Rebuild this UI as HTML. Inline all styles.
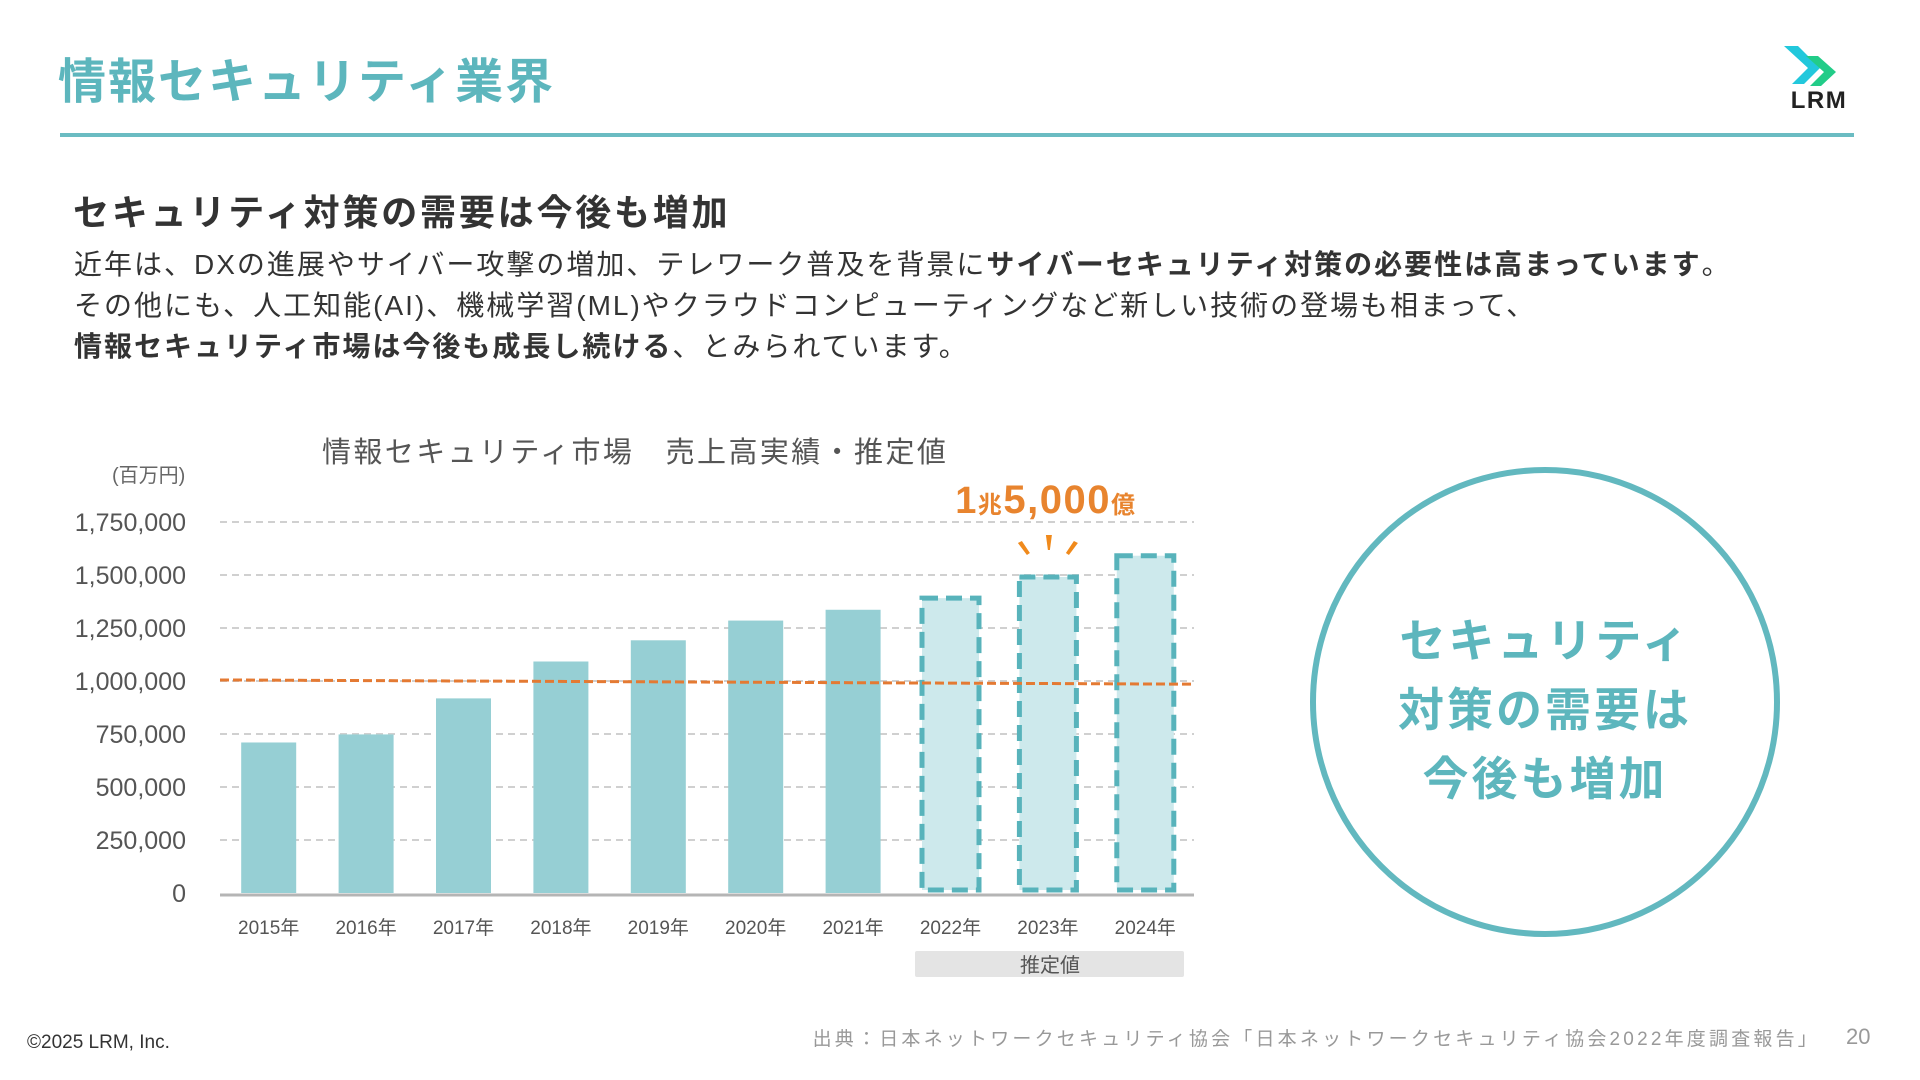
<!DOCTYPE html>
<html><head><meta charset="utf-8"><style>
body{margin:0;width:1920px;height:1080px;background:#fff;position:relative;overflow:hidden;font-family:"Liberation Sans","Noto Sans CJK JP",sans-serif;}
.abs{position:absolute;white-space:nowrap;}
</style></head><body>
<div class="abs" style="left:58px;top:42px;font-size:48px;font-weight:bold;color:#5db6bd;letter-spacing:2px;">情報セキュリティ業界</div>
<div class="abs" style="left:60px;top:133px;width:1794px;height:4px;background:#6bbcc2;"></div>
<svg class="abs" style="left:1780px;top:40px" width="80" height="70" viewBox="0 0 80 70">
<polygon points="4,6 18,6 40,28 24,44 12,44 28,28" fill="#22c8dc"/>
<polygon points="26,16 38,16 56,32 41,46 30,46 44,32" fill="#22cc88"/>
<text x="39" y="68" text-anchor="middle" font-size="24" font-weight="bold" fill="#222" font-family="Liberation Sans,sans-serif" letter-spacing="1.5">LRM</text>
</svg>
<div class="abs" style="left:73px;top:184px;font-size:36px;font-weight:bold;color:#333;letter-spacing:2.8px;">セキュリティ対策の需要は今後も増加</div>
<div class="abs" style="left:74px;top:244px;font-size:28px;color:#333;line-height:41px;letter-spacing:2px;">
近年は、DXの進展やサイバー攻撃の増加、テレワーク普及を背景に<b>サイバーセキュリティ対策の必要性は高まっています</b>。<br>
その他にも、人工知能(AI)、機械学習(ML)やクラウドコンピューティングなど新しい技術の登場も相まって、<br>
<b>情報セキュリティ市場は今後も成長し続ける</b>、とみられています。</div>

<svg class="abs" id="chart" style="left:0;top:0" width="1920" height="1080"></svg>

<svg class="abs" style="left:1300px;top:460px" width="490" height="490">
<circle cx="245" cy="242" r="232" fill="none" stroke="#62b8bf" stroke-width="6"/>
<text x="245" y="197" text-anchor="middle" font-size="46" font-weight="bold" fill="#5db6bd" letter-spacing="3">セキュリティ</text>
<text x="245" y="266" text-anchor="middle" font-size="46" font-weight="bold" fill="#5db6bd" letter-spacing="3">対策の需要は</text>
<text x="245" y="335" text-anchor="middle" font-size="46" font-weight="bold" fill="#5db6bd" letter-spacing="3">今後も増加</text>
</svg>

<div class="abs" style="left:27px;top:1032px;font-size:19px;color:#333;">©2025 LRM, Inc.</div>
<div class="abs" style="right:100px;top:1024px;font-size:19px;color:#999;letter-spacing:3.2px;">出典：日本ネットワークセキュリティ協会「日本ネットワークセキュリティ協会2022年度調査報告」</div>
<div class="abs" style="left:1846px;top:1024px;font-size:22px;color:#999;">20</div>

<script>
const categories=["2015年","2016年","2017年","2018年","2019年","2020年","2021年","2022年","2023年","2024年"];
const values=[710000,748000,918000,1092000,1192000,1285000,1336000,1405000,1505000,1605000];
const estimated=[false,false,false,false,false,false,false,true,true,true];
const yTicks=[0,250000,500000,750000,1000000,1250000,1500000,1750000];
const yTickLabels=["0","250,000","500,000","750,000","1,000,000","1,250,000","1,500,000","1,750,000"];
const trendStart=1005000, trendEnd=985000;
const NS="http://www.w3.org/2000/svg";
const svg=document.getElementById('chart');
const x0=220,x1=1194,yBase=893,yTop=522,maxV=1750000;
const y=v=>yBase-(v/maxV)*(yBase-yTop);
const step=(x1-x0)/categories.length;
const xc=i=>x0+step*(i+0.5);
function el(t,a,txt){const e=document.createElementNS(NS,t);for(const k in a)e.setAttribute(k,a[k]);if(txt!==undefined)e.textContent=txt;svg.appendChild(e);return e;}
let t=el('text',{x:322,y:462,'font-size':29,fill:'#555','letter-spacing':2.4},'情報セキュリティ市場　売上高実績・推定値');

t=el('text',{x:112,y:482,'font-size':20,fill:'#666'},'(百万円)');

yTicks.forEach((v,i)=>{
 if(i>0){const g=el('line',{x1:x0,x2:x1,y1:y(v),y2:y(v),stroke:'#d0d0d0','stroke-width':2,'stroke-dasharray':'7,5'});
 }
 const l=el('text',{x:186,y:y(v)+9,'text-anchor':'end','font-size':25,fill:'#555'},yTickLabels[i]);
 
});
const bw=55;
values.forEach((v,i)=>{
 let r;
 if(estimated[i]){r=el('rect',{x:xc(i)-bw/2-1,y:y(v)+3,width:bw+2,height:yBase-y(v)-6,fill:'#cde9ec',stroke:'#58b3bb','stroke-width':5,'stroke-dasharray':'16,8'});}
 else{r=el('rect',{x:xc(i)-bw/2,y:y(v),width:bw,height:yBase-y(v),fill:'#96cfd4'});}
 
 
 const l=el('text',{x:xc(i),y:934,'text-anchor':'middle','font-size':19,fill:'#555'},categories[i]);
 
});
let ax=el('line',{x1:x0,x2:x1,y1:yBase+2,y2:yBase+2,stroke:'#b5b5b5','stroke-width':3});

let tr=el('line',{x1:x0,x2:x1,y1:y(trendStart),y2:y(trendEnd),stroke:'#e47a33','stroke-width':3,'stroke-dasharray':'9,4'});

let b=el('rect',{x:915,y:951,width:269,height:26,fill:'#e4e4e4',rx:2});

t=el('text',{x:1050,y:972,'text-anchor':'middle','font-size':20,fill:'#555'},'推定値');

const cx=xc(8);
t=el('text',{x:cx-2,y:513,'text-anchor':'middle',fill:'#e8842e','font-weight':'bold','letter-spacing':1.5});
t.innerHTML='<tspan font-size="38">1</tspan><tspan font-size="24">兆</tspan><tspan font-size="40">5,000</tspan><tspan font-size="24">億</tspan>';

const sp=el('g',{fill:'#f08a1c'});

sp.innerHTML=`<polygon points="${cx-2},535 ${cx+4},535 ${cx+2},550 ${cx},550"/><polygon points="${cx-30},543 ${cx-26},541 ${cx-18},553 ${cx-21},555"/><polygon points="${cx+30},543 ${cx+26},541 ${cx+18},553 ${cx+21},555"/>`;
svg.appendChild(sp);
</script>
</body></html>
